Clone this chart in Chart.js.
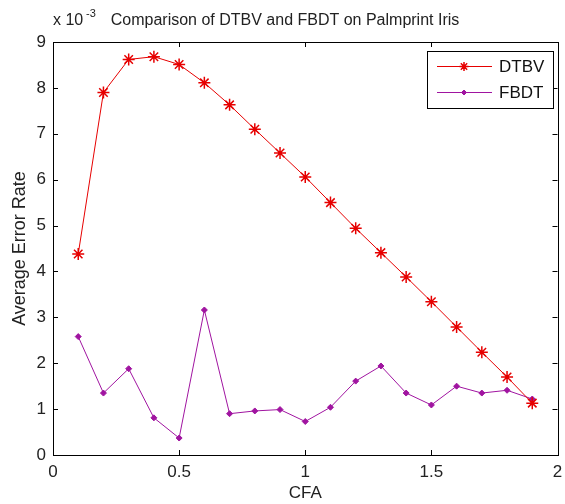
<!DOCTYPE html>
<html>
<head>
<meta charset="utf-8">
<script src="https://cdn.jsdelivr.net/npm/chart.js@4"></script>
<style>
  html, body { margin: 0; padding: 0; background: #fff; }
  #wrap { width: 565px; height: 504px; }
</style>
</head>
<body>
<div id="wrap"><canvas id="chart"></canvas></div>
<script>
// data, y values in units of 1e-3
const cfa = [0.1, 0.2, 0.3, 0.4, 0.5, 0.6, 0.7, 0.8, 0.9, 1.0,
             1.1, 1.2, 1.3, 1.4, 1.5, 1.6, 1.7, 1.8, 1.9];
const dtbv = [4.38, 7.90, 8.62, 8.68, 8.51, 8.11, 7.63, 7.10, 6.58, 6.06,
              5.50, 4.94, 4.41, 3.88, 3.34, 2.79, 2.24, 1.70, 1.13];
const fbdt = [2.58, 1.35, 1.88, 0.81, 0.37, 3.16, 0.90, 0.96, 0.99, 0.73,
              1.04, 1.61, 1.94, 1.35, 1.09, 1.50, 1.35, 1.41, 1.22];
const seriesNames = ['DTBV', 'FBDT'];
const xTicks = [0, 0.5, 1, 1.5, 2];
const titleText = 'Comparison of DTBV and FBDT on Palmprint Iris';

const FONT = '"Liberation Sans", Arial, sans-serif';
const red = 'rgb(230,0,0)';
const purple = 'rgb(160,20,160)';

const toPoints = (ys) => ys.map((y, i) => ({x: cfa[i], y: y}));

// box, inward ticks, title, exponent and legend (matlab look)
const matlabFrame = {
  id: 'matlabFrame',
  afterDraw(chart) {
    const {ctx, chartArea: a, scales} = chart;
    const xs = scales.x, ys = scales.y;
    ctx.save();
    ctx.strokeStyle = '#000';
    ctx.lineWidth = 1;
    ctx.strokeRect(Math.round(a.left) + 0.5, Math.round(a.top) + 0.5,
                   Math.round(a.right - a.left), Math.round(a.bottom - a.top));
    ctx.beginPath();
    xTicks.forEach(v => {
      const px = Math.round(xs.getPixelForValue(v)) + 0.5;
      ctx.moveTo(px, a.bottom); ctx.lineTo(px, a.bottom - 5);
      ctx.moveTo(px, a.top); ctx.lineTo(px, a.top + 5);
    });
    for (let v = 0; v <= 9; v++) {
      const py = Math.round(ys.getPixelForValue(v)) + 0.5;
      ctx.moveTo(a.left, py); ctx.lineTo(a.left + 5, py);
      ctx.moveTo(a.right, py); ctx.lineTo(a.right - 5, py);
    }
    ctx.stroke();

    // exponent label
    ctx.fillStyle = '#222';
    ctx.textBaseline = 'alphabetic';
    ctx.textAlign = 'left';
    ctx.font = '16px ' + FONT;
    ctx.fillText('x 10', 53, 25);
    ctx.font = '11px ' + FONT;
    ctx.fillText('-3', 86, 17);

    // title
    ctx.font = '16px ' + FONT;
    ctx.textAlign = 'center';
    ctx.fillText(titleText, 285, 25);

    // legend
    const lx = 427, ly = 51, lw = 126, lh = 57;
    ctx.fillStyle = '#fff';
    ctx.fillRect(lx, ly, lw, lh);
    ctx.strokeStyle = '#000';
    ctx.strokeRect(lx + 0.5, ly + 0.5, lw, lh);
    chart.data.datasets.forEach((ds, i) => {
      const y = ly + 15 + i * 26;
      ctx.strokeStyle = ds.borderColor;
      ctx.lineWidth = 1;
      ctx.beginPath();
      ctx.moveTo(lx + 10, y + 0.5); ctx.lineTo(lx + 65, y + 0.5);
      ctx.stroke();
      ctx.fillStyle = ds.pointBackgroundColor;
      ctx.strokeStyle = ds.pointBorderColor;
      ctx.lineWidth = ds.pointBorderWidth;
      Chart.helpers.drawPoint(ctx, {
        pointStyle: ds.pointStyle, radius: i === 0 ? 4.5 : 2.5, borderWidth: ds.pointBorderWidth
      }, lx + 37, y + 0.5);
      ctx.fillStyle = '#111';
      ctx.textAlign = 'left';
      ctx.textBaseline = 'middle';
      ctx.font = '17px ' + FONT;
      ctx.fillText(ds.label, lx + 72, y + 1);
    });
    ctx.restore();
  }
};

new Chart(document.getElementById('chart'), {
  type: 'line',
  data: {
    datasets: [
      {
        label: seriesNames[0],
        data: toPoints(dtbv),
        borderColor: red,
        borderWidth: 1,
        pointStyle: 'star',
        pointRadius: 6,
        pointBorderWidth: 1.5,
        pointBorderColor: red,
        pointBackgroundColor: red,
        tension: 0
      },
      {
        label: seriesNames[1],
        data: toPoints(fbdt),
        borderColor: purple,
        borderWidth: 1,
        pointStyle: 'rectRot',
        pointRadius: 3,
        pointBorderWidth: 1,
        pointBorderColor: purple,
        pointBackgroundColor: purple,
        tension: 0
      }
    ]
  },
  options: {
    responsive: true,
    maintainAspectRatio: false,
    animation: false,
    layout: { padding: { left: 0, right: 0, top: 42, bottom: 0 } },
    plugins: {
      legend: { display: false },
      title: { display: false },
      tooltip: { enabled: false }
    },
    scales: {
      x: {
        type: 'linear',
        min: 0, max: 2,
        afterBuildTicks: (s) => { s.ticks = xTicks.map(v => ({value: v})); },
        grid: { display: false, drawTicks: false },
        border: { display: false },
        ticks: { color: '#222', padding: 7, font: { family: FONT, size: 17 },
                 callback: (v) => String(v) },
        title: { display: true, text: 'CFA', color: '#222', padding: { top: 0, bottom: 0 },
                 font: { family: FONT, size: 17 } },
        afterFit: (s) => { s.height = 49; s.paddingRight = 4; }
      },
      y: {
        min: 0, max: 9,
        ticks: { stepSize: 1, color: '#222', padding: 7, font: { family: FONT, size: 17 } },
        grid: { display: false, drawTicks: false },
        border: { display: false },
        title: { display: true, text: 'Average Error Rate', color: '#222', padding: { top: 9, bottom: 2 },
                 font: { family: FONT, size: 18 } },
        afterFit: (s) => { s.width = 53; }
      }
    }
  },
  plugins: [matlabFrame]
});
</script>
</body>
</html>
